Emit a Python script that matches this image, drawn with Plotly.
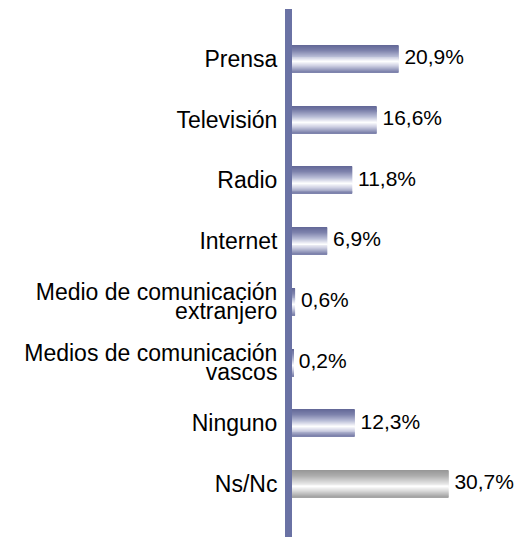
import plotly.graph_objects as go

# Survey answers: main source of information
categories = [
    "Prensa",
    "Televisión",
    "Radio",
    "Internet",
    "Medio de comunicación extranjero",
    "Medios de comunicación vascos",
    "Ninguno",
    "Ns/Nc",
]
values = [20.9, 16.6, 11.8, 6.9, 0.6, 0.2, 12.3, 30.7]
palette = ["blue"] * 7 + ["grey"]

# vertical shading profile of the "cylinder" bars (t from top to bottom)
profiles = {
    "blue": [(0.0, (98, 103, 150)), (0.2, (125, 130, 172)), (0.42, (185, 189, 215)),
             (0.62, (255, 255, 255)), (0.78, (205, 207, 226)), (1.0, (120, 125, 168))],
    "grey": [(0.0, (150, 150, 150)), (0.2, (172, 172, 172)), (0.42, (215, 215, 215)),
             (0.62, (255, 255, 255)), (0.78, (218, 218, 218)), (1.0, (160, 160, 160))],
}


def shade(name, t):
    stops = profiles[name]
    for (t0, c0), (t1, c1) in zip(stops[:-1], stops[1:]):
        if t0 <= t <= t1:
            f = (t - t0) / (t1 - t0) if t1 > t0 else 0
            c = [round(a + (b - a) * f) for a, b in zip(c0, c1)]
            return f"rgb({c[0]},{c[1]},{c[2]})"
    c = stops[-1][1]
    return f"rgb({c[0]},{c[1]},{c[2]})"


ypos = list(range(len(categories)))
row_px = 60.8          # pixel height of one category row
bar_h = 0.445
n_slices = 28
step = bar_h / n_slices

# long names are split over two tightly spaced lines
first_lines, first_pos, second_lines, second_pos = [], [], [], []
for y, name in zip(ypos, categories):
    if name.startswith("Medio"):
        head, tail = name.rsplit(" ", 1)
        first_lines.append(head)
        first_pos.append(y - 10 / row_px)
        second_lines.append(tail)
        second_pos.append(y + 9 / row_px)
    else:
        first_lines.append(name)
        first_pos.append(y)

fig = go.Figure()
for i in range(n_slices):
    t = (i + 0.5) / n_slices
    fig.add_trace(go.Bar(
        x=values,
        y=ypos,
        orientation="h",
        width=step * 1.15,
        offset=-bar_h / 2 + i * step,
        marker=dict(color=[shade(p, t) for p in palette], line=dict(width=0)),
        hoverinfo="skip",
        showlegend=False,
    ))

labels = ["\u00a0" + f"{v:.1f}".replace(".", ",") + "%" for v in values]
fig.add_trace(go.Scatter(
    x=values,
    y=ypos,
    yaxis="y2",
    mode="text",
    text=labels,
    textposition="middle right",
    textfont=dict(family="Liberation Sans, Arial", size=21, color="#000000"),
    cliponaxis=False,
    showlegend=False,
    hoverinfo="skip",
))

y_range = [7 + 53 / row_px, -50 / row_px]
tick_font = dict(size=23, family="Liberation Sans, Arial", color="#000000")

fig.update_layout(
    width=517,
    height=540,
    margin=dict(l=292, r=0, t=9, b=3),
    paper_bgcolor="white",
    plot_bgcolor="white",
    barmode="overlay",
    font=dict(family="Liberation Sans, Arial", color="#000000"),
    xaxis=dict(
        range=[0, 225 / 5.1],
        showgrid=False,
        zeroline=False,
        showticklabels=False,
        showline=False,
        fixedrange=True,
    ),
    yaxis=dict(
        range=y_range,
        tickmode="array",
        tickvals=first_pos,
        ticktext=first_lines,
        tickfont=tick_font,
        ticks="",
        showgrid=False,
        zeroline=False,
        showline=True,
        linecolor="#6a72a4",
        linewidth=7,
        automargin=False,
        ticklabelstandoff=3,
        fixedrange=True,
    ),
    yaxis2=dict(
        range=y_range,
        overlaying="y",
        side="left",
        tickmode="array",
        tickvals=second_pos,
        ticktext=second_lines,
        tickfont=tick_font,
        ticks="",
        showgrid=False,
        zeroline=False,
        showline=True,
        linecolor="#6a72a4",
        linewidth=7,
        automargin=False,
        ticklabelstandoff=3,
        fixedrange=True,
    ),
)

fig.write_html("out.html")
